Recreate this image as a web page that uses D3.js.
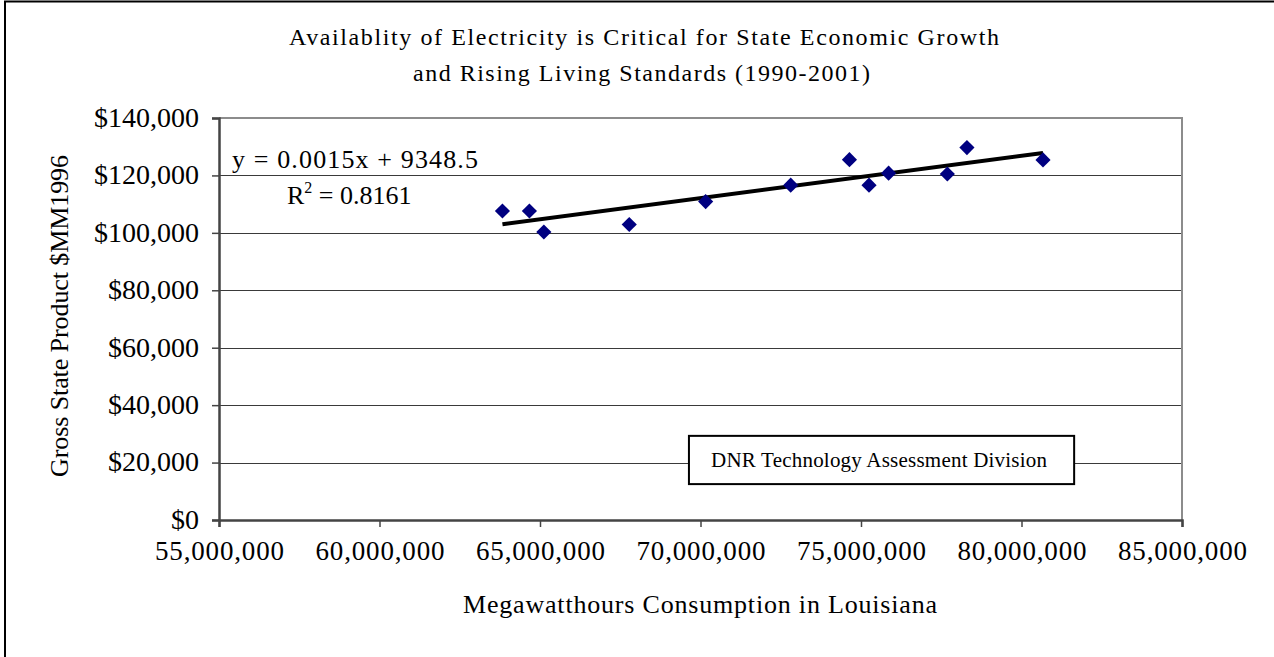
<!DOCTYPE html>
<html>
<head>
<meta charset="utf-8">
<script src="https://cdn.jsdelivr.net/npm/d3@7/dist/d3.min.js"></script>
<style>
  html, body { margin: 0; padding: 0; background: #fff; }
  svg { display: block; font-family: "Liberation Serif", "Times New Roman", serif; }
</style>
</head>
<body>
<svg id="chart" width="1274" height="657"></svg>
<script>
// ---- data ----
const years = [1990,1991,1992,1993,1994,1995,1996,1997,1998,1999,2000,2001];
const consumptionMWh = [63.83e6, 64.67e6, 65.12e6, 67.78e6, 70.16e6, 72.81e6, 74.64e6, 75.25e6, 75.86e6, 77.69e6, 78.30e6, 80.67e6];
const gspMM1996 = [107600, 107600, 100300, 102900, 110900, 116600, 125500, 116600, 120800, 120500, 129700, 125400];
const xTicks = [55e6, 60e6, 65e6, 70e6, 75e6, 80e6, 85e6];
const yTicks = [0, 20000, 40000, 60000, 80000, 100000, 120000, 140000];
const titleLines = ["Availablity of Electricity is Critical for State Economic Growth", "and Rising Living Standards (1990-2001)"];
const xTitle = "Megawatthours Consumption in Louisiana";
const yTitle = "Gross State Product $MM1996";
const eqText = "y = 0.0015x + 9348.5";
const r2Value = "0.8161";
const noteText = "DNR Technology Assessment Division";
const noteBoxData = { x0: 69.64e6, x1: 81.64e6, y0: 29300, y1: 12500 };

// ---- layout ----
const svg = d3.select("#chart");
const L = 219, R = 1182, T = 118, B = 520;
const x = d3.scaleLinear().domain([55e6, 85e6]).range([L, R]);
const y = d3.scaleLinear().domain([0, 140000]).range([B, T]);

// outer chart border (only left/top visible in the reference)
svg.append("rect").attr("x", 5).attr("y", 1.5).attr("width", 1290).attr("height", 700)
  .attr("fill", "none").attr("stroke", "#000").attr("stroke-width", 2);

// gridlines
svg.append("g").selectAll("line").data(yTicks.filter(d => d > 0 && d < 140000)).join("line")
  .attr("x1", L).attr("x2", R).attr("y1", d => Math.round(y(d)) + 0.5).attr("y2", d => Math.round(y(d)) + 0.5)
  .attr("stroke", "#3a3a3a").attr("stroke-width", 1);

// plot border top & right
svg.append("path").attr("d", `M${L},${T}H${R}V${B}`).attr("fill", "none")
  .attr("stroke", "#8c8c8c").attr("stroke-width", 2);

// axes
const fmtY = v => "$" + d3.format(",")(v);
const yAxis = svg.append("g").attr("transform", `translate(${L},0)`)
  .call(d3.axisLeft(y).tickValues(yTicks).tickFormat(fmtY).tickSize(7).tickPadding(13));
yAxis.select(".domain").attr("stroke", "#444").attr("stroke-width", 2.5);
yAxis.selectAll(".tick line").attr("stroke", "#444").attr("stroke-width", 1.5);
yAxis.selectAll("text").attr("font-size", 28).attr("fill", "#000").attr("dy", "0.3em")
  .attr("font-family", "Liberation Serif");

const xAxis = svg.append("g").attr("transform", `translate(0,${B})`)
  .call(d3.axisBottom(x).tickValues(xTicks).tickFormat(d3.format(",")).tickSize(7).tickPadding(14));
xAxis.select(".domain").attr("stroke", "#444").attr("stroke-width", 2.5);
xAxis.selectAll(".tick line").attr("stroke", "#444").attr("stroke-width", 1.5);
xAxis.selectAll("text").attr("font-size", 27).attr("fill", "#000").attr("dy", "0.71em")
  .attr("font-family", "Liberation Serif")
  .attr("textLength", 129).attr("lengthAdjust", "spacing");

// trendline (least squares from the data)
const n = consumptionMWh.length;
const mx = d3.mean(consumptionMWh), my = d3.mean(gspMM1996);
let sxy = 0, sxx = 0;
for (let i = 0; i < n; i++) { sxy += (consumptionMWh[i]-mx)*(gspMM1996[i]-my); sxx += (consumptionMWh[i]-mx)**2; }
const slope = sxy / sxx, intercept = my - slope * mx;
const xMin = d3.min(consumptionMWh), xMax = d3.max(consumptionMWh);
svg.append("line")
  .attr("x1", x(xMin)).attr("y1", y(slope*xMin + intercept))
  .attr("x2", x(xMax)).attr("y2", y(slope*xMax + intercept))
  .attr("stroke", "#000").attr("stroke-width", 4);

// points (diamonds)
const diamond = d3.symbol().type(d3.symbolSquare).size(115);
svg.append("g").selectAll("path").data(years.map((yr, i) => ({yr, xv: consumptionMWh[i], yv: gspMM1996[i]}))).join("path")
  .attr("d", diamond)
  .attr("transform", d => `translate(${x(d.xv)},${y(d.yv)}) rotate(45)`)
  .attr("fill", "#000080");

// equation labels
svg.append("text").attr("x", 232).attr("y", 168).attr("font-size", 26)
  .attr("textLength", 246).attr("lengthAdjust", "spacing").text(eqText);
const r2 = svg.append("text").attr("x", 287).attr("y", 204).attr("font-size", 26);
r2.append("tspan").text("R");
r2.append("tspan").attr("font-size", 16).attr("dy", -11).text("2");
r2.append("tspan").attr("dy", 11).text(" = " + r2Value);

// note box
svg.append("rect")
  .attr("x", x(noteBoxData.x0)).attr("y", y(noteBoxData.y0))
  .attr("width", x(noteBoxData.x1) - x(noteBoxData.x0)).attr("height", y(noteBoxData.y1) - y(noteBoxData.y0))
  .attr("fill", "#fff").attr("stroke", "#000").attr("stroke-width", 2);
svg.append("text").attr("x", 711).attr("y", 467).attr("font-size", 21)
  .attr("textLength", 336).attr("lengthAdjust", "spacing").text(noteText);

// titles
svg.append("text").attr("x", 644).attr("y", 45).attr("text-anchor", "middle").attr("font-size", 24)
  .attr("textLength", 710).attr("lengthAdjust", "spacing").text(titleLines[0]);
svg.append("text").attr("x", 641.5).attr("y", 81).attr("text-anchor", "middle").attr("font-size", 24)
  .attr("textLength", 457).attr("lengthAdjust", "spacing").text(titleLines[1]);

svg.append("text").attr("x", 700).attr("y", 613).attr("text-anchor", "middle").attr("font-size", 26)
  .attr("textLength", 474).attr("lengthAdjust", "spacing").text(xTitle);

svg.append("text").attr("transform", "translate(68,316) rotate(-90)").attr("text-anchor", "middle")
  .attr("font-size", 26).attr("textLength", 322).attr("lengthAdjust", "spacing").text(yTitle);
</script>
</body>
</html>
